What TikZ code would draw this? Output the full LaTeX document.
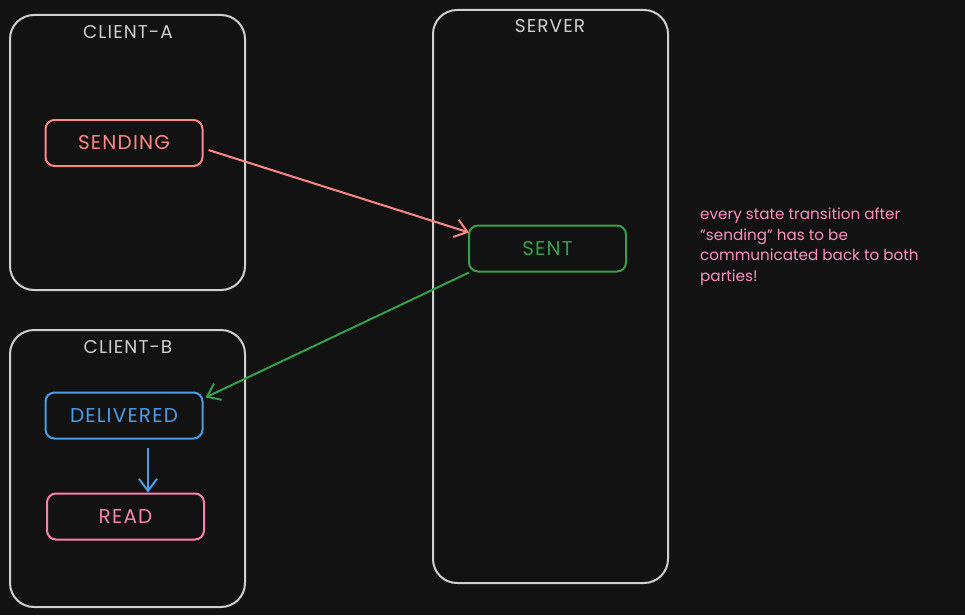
\documentclass[tikz,border=0pt]{standalone}
\usepackage{fontspec}
\setmainfont{Poppins}
\newfontfamily\titlefont[LetterSpace=6]{Poppins}
\newfontfamily\statefont[LetterSpace=6]{Poppins}
\usetikzlibrary{arrows.meta}
\definecolor{bg}{HTML}{121212}
\definecolor{frame}{HTML}{CFCFCF}
\definecolor{sendred}{HTML}{FF8787}
\definecolor{sentgreen}{HTML}{34A04A}
\definecolor{delblue}{HTML}{4A9DE8}
\definecolor{readpink}{HTML}{F783AC}
\definecolor{notepink}{HTML}{FF8FBF}
\tikzset{
  x=1pt, y=-1pt,
  container/.style={draw=frame, line width=2pt, rounded corners=24pt, inner sep=0pt},
  title/.style={text=frame, font=\titlefont\fontsize{18.5}{20}\selectfont},
  state/.style={line width=2pt, rounded corners=9pt, minimum width=157pt, minimum height=46pt, inner sep=0pt, font=\statefont\fontsize{20}{22}\selectfont},
  flow/.style={line width=2pt, -{Straight Barb[length=12pt, width=18pt, line width=2pt]}},
  note/.style={text=notepink, align=left, anchor=north west, font=\fontsize{15.2}{20.5}\selectfont, inner sep=0pt}
}
\begin{document}
\begin{tikzpicture}
  \fill[bg] (0,0) rectangle (965,615);
  \useasboundingbox (0,0) rectangle (965,615);

  % containers
  \node[container, minimum width=235pt, minimum height=275pt] (clientA) at (127.5,152.5) {};
  \node[container, minimum width=235pt, minimum height=277pt] (clientB) at (127.5,468.5) {};
  \node[container, minimum width=235pt, minimum height=573pt] (server) at (550.5,296.5) {};
  \node[title] (titleA) at (128,32) {CLIENT-A};
  \node[title] (titleB) at (128,347) {CLIENT-B};
  \node[title] (titleS) at (550,26) {SERVER};

  % message states
  \node[state, draw=sendred, text=sendred] (sending) at (124,143) {SENDING};
  \node[state, draw=sentgreen, text=sentgreen] (sent) at (547.5,248.5) {SENT};
  \node[state, draw=delblue, text=delblue] (delivered) at (124,415.5) {DELIVERED};
  \node[state, draw=readpink, text=readpink] (read) at (125.5,516.5) {READ};

  % transitions
  \draw[flow, sendred] ([xshift=5pt,yshift=-7pt]sending.east) -- ([xshift=1pt,yshift=16pt]sent.west);
  \draw[flow, sentgreen] ([xshift=1pt]sent.south west) -- ([xshift=2pt,yshift=18pt]delivered.east);
  \draw[flow, delblue] ([xshift=24pt,yshift=-8pt]delivered.south) -- ([xshift=22.5pt]read.north);

  % annotation
  \node[note] (remark) at (700,208) {every state transition after\\"sending" has to be\\communicated back to both\\parties!};
\end{tikzpicture}
\end{document}
